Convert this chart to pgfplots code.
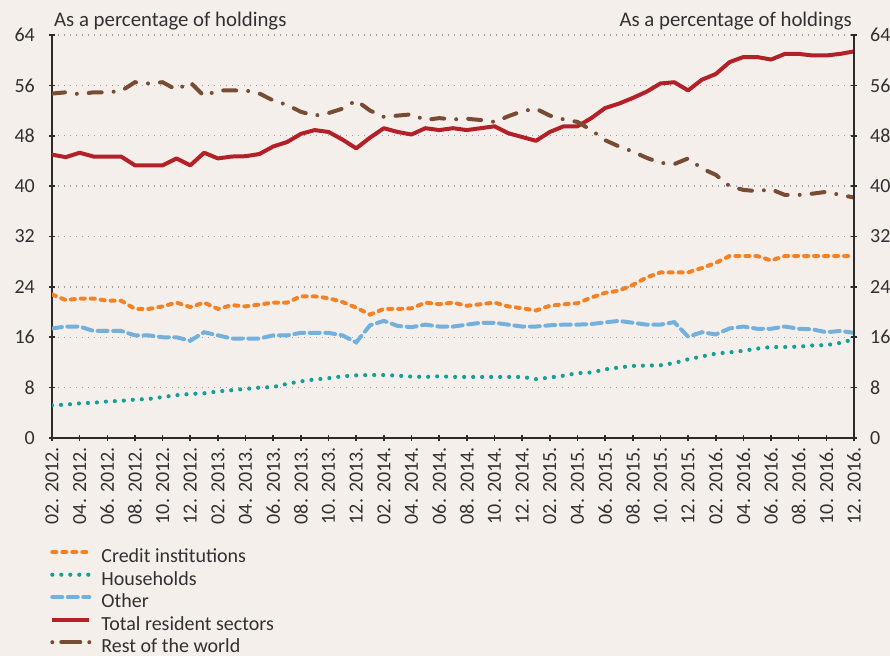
\documentclass[border=0pt]{standalone}
\usepackage{fontspec}
\setmainfont{Carlito}
\usepackage{pgfplots}
\usepackage{pgfplotstable}
\pgfplotsset{compat=1.18}
\definecolor{bg}{RGB}{245,239,236}
\definecolor{axc}{RGB}{45,42,42}
\definecolor{txt}{RGB}{50,48,48}
\definecolor{cOrange}{RGB}{244,130,36}
\definecolor{cTeal}{RGB}{20,160,148}
\definecolor{cBlue}{RGB}{116,176,220}
\definecolor{cRed}{RGB}{180,32,40}
\definecolor{cBrown}{RGB}{120,76,50}
\definecolor{gridc}{RGB}{160,158,158}

\pgfplotstableread{
i  ci    hh    ot    tr    rw
0  22.8  5.2   17.4  45.0  54.7
1  21.9  5.3   17.7  44.6  54.9
2  22.15 5.5   17.7  45.3  54.6
3  22.15 5.6   17.0  44.7  54.9
4  21.8  5.8   17.0  44.7  54.9
5  21.8  5.9   17.0  44.7  55.1
6  20.5  6.1   16.3  43.3  56.5
7  20.5  6.2   16.3  43.3  56.3
8  20.9  6.5   16.0  43.3  56.5
9  21.5  6.8   16.0  44.4  55.3
10 20.8  7.0   15.45 43.3  56.5
11 21.5  7.1   16.8  45.3  54.3
12 20.5  7.4   16.3  44.4  55.2
13 21.1  7.6   15.8  44.7  55.2
14 20.9  7.8   15.8  44.75 55.2
15 21.2  8.0   15.8  45.1  54.7
16 21.5  8.1   16.3  46.3  53.6
17 21.5  8.6   16.3  47.0  52.9
18 22.5  9.0   16.7  48.3  51.8
19 22.5  9.3   16.7  48.9  51.2
20 22.2  9.5   16.7  48.6  51.6
21 21.6  9.8   16.3  47.4  52.3
22 20.7  9.95  15.2  46.0  53.6
23 19.6  10.0  17.9  47.7  52.0
24 20.5  10.0  18.6  49.2  51.0
25 20.5  9.9   17.8  48.6  51.2
26 20.6  9.75  17.6  48.2  51.4
27 21.5  9.7   18.0  49.2  50.5
28 21.25 9.8   17.7  48.9  50.8
29 21.5  9.7   17.7  49.2  50.6
30 21.0  9.7   18.0  48.9  50.7
31 21.25 9.7   18.3  49.2  50.5
32 21.5  9.7   18.3  49.5  50.2
33 20.9  9.7   18.0  48.4  51.1
34 20.6  9.7   17.7  47.8  51.9
35 20.25 9.35  17.7  47.2  52.3
36 21.0  9.6   17.9  48.6  51.2
37 21.25 9.9   18.0  49.5  50.6
38 21.4  10.3  18.0  49.5  50.2
39 22.3  10.4  18.1  50.8  48.9
40 23.05 10.9  18.35 52.4  47.3
41 23.4  11.2  18.6  53.1  46.3
42 24.3  11.45 18.3  54.0  45.5
43 25.5  11.5  18.0  55.0  44.5
44 26.3  11.55 18.0  56.3  43.7
45 26.3  11.9  18.4  56.5  43.5
46 26.3  12.5  16.1  55.2  44.4
47 27.0  12.95 16.8  56.9  42.8
48 27.8  13.4  16.45 57.8  41.8
49 28.9  13.6  17.4  59.7  40.0
50 28.9  13.85 17.7  60.5  39.4
51 28.9  14.2  17.35 60.5  39.2
52 28.2  14.45 17.35 60.1  39.5
53 28.9  14.45 17.7  61.0  38.6
54 28.9  14.5  17.35 61.0  38.6
55 28.9  14.7  17.25 60.75 38.8
56 28.9  14.75 16.8  60.75 39.1
57 28.9  15.1  17.0  61.0  38.6
58 28.9  15.7  16.7  61.4  38.2
}\datatable

\pgfplotsset{
  common/.style={
    scale only axis, width=802bp, height=403bp,
    at={(52bp,218bp)}, anchor=south west,
    xmin=0, xmax=58, ymin=0, ymax=64,
    ytick={0,8,...,64},
    tick align=outside,
    major tick length=6bp,
    tick style={line width=1.6bp, color=axc},
    /pgf/number format/assume math mode=true,
    yticklabel style={font=\fontsize{20bp}{24bp}\selectfont, color=txt, inner xsep=0bp, inner ysep=0bp},
  },
  stdlegend/.style={legend image code/.code={\draw[##1] (0bp,6bp) -- (37bp,6bp); \path (47bp,0bp);}},
  rwlegend/.style={legend image code/.code={\draw[##1, dash pattern=on 0bp off 9bp on 19bp off 9bp on 0bp off 60bp] (0bp,6bp) -- (37bp,6bp); \path (47bp,0bp);}},
}

\begin{document}
\begin{tikzpicture}[font=\fontsize{20bp}{24bp}\selectfont]
\useasboundingbox (0,0) rectangle (890bp,656bp);
\fill[bg] (0,0) rectangle (890bp,656bp);
\begin{axis}[common,
  name=main,
  axis x line=bottom, axis y line=left,
  axis line style={-, line width=2.4bp, color=axc},
  x axis line style={-}, y axis line style={-},
  yticklabel style={xshift=-14bp},
  xtick={0,2,...,58},
  xticklabels={02. 2012.,04. 2012.,06. 2012.,08. 2012.,10. 2012.,12. 2012.,
               02. 2013.,04. 2013.,06. 2013.,08. 2013.,10. 2013.,12. 2013.,
               02. 2014.,04. 2014.,06. 2014.,08. 2014.,10. 2014.,12. 2014.,
               02. 2015.,04. 2015.,06. 2015.,08. 2015.,10. 2015.,12. 2015.,
               02. 2016.,04. 2016.,06. 2016.,08. 2016.,10. 2016.,12. 2016.},
  xticklabel style={rotate=90, anchor=east, inner xsep=6bp, inner ysep=0bp, color=txt,
                    font=\fontsize{20bp}{24bp}\selectfont},
  ymajorgrids,
  grid style={line width=1.3bp, color=gridc, dash pattern=on 1.3bp off 4.7bp},
  legend style={at={(0,0)}, anchor=north west, xshift=-2bp, yshift=-111bp,
    draw=none, fill=none, inner sep=0pt, row sep=4.5bp,
    nodes={inner sep=0pt, text height=13.5bp, text depth=4.5bp, text=txt},
    font=\fontsize{20bp}{24bp}\selectfont},
  legend cell align=left,
  stdlegend,
]
\addplot[cOrange, line width=4bp, line cap=round, dash pattern=on 4bp off 6bp] table[x=i, y=ci] {\datatable};
\addlegendentry{Credit institutions}
\addplot[cTeal, line width=4.2bp, line cap=round, dash pattern=on 0bp off 9bp] table[x=i, y=hh] {\datatable};
\addlegendentry{Households}
\addplot[cBlue, line width=4bp, line cap=round, dash pattern=on 10bp off 5.5bp] table[x=i, y=ot] {\datatable};
\addlegendentry{Other}
\addplot[cRed, line width=4bp, line join=round] table[x=i, y=tr] {\datatable};
\addlegendentry{Total resident sectors}
\addplot[cBrown, line width=4bp, line cap=round, dash pattern=on 13bp off 12bp on 0bp off 12bp, rwlegend]
  table[x=i, y=rw] {\datatable};
\addlegendentry{Rest of the world}
\end{axis}
\begin{axis}[common,
  axis x line=none, axis y line=right,
  axis line style={-, line width=2.4bp, color=axc},
  y axis line style={-},
  yticklabel style={xshift=13bp},
  xtick=\empty,
]
\addplot[draw=none, forget plot] coordinates {(0,0) (58,64)};
\end{axis}
\node[anchor=base west, text=txt, inner sep=0pt, font=\fontsize{20.8bp}{24bp}\selectfont] at ([xshift=2bp, yshift=9bp]main.north west) {As a percentage of holdings};
\node[anchor=base east, text=txt, inner sep=0pt, font=\fontsize{20.8bp}{24bp}\selectfont] at ([xshift=-2bp, yshift=9bp]main.north east) {As a percentage of holdings};
\end{tikzpicture}
\end{document}
